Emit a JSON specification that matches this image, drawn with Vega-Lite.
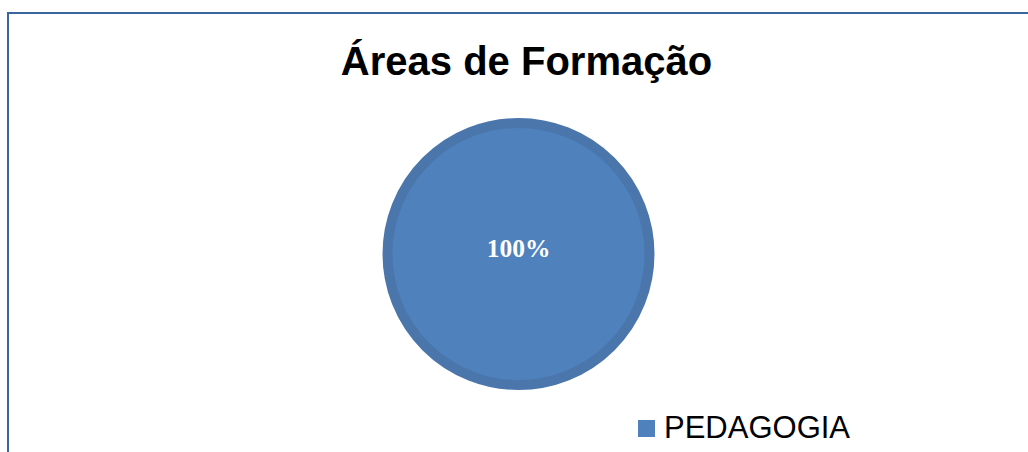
{
  "$schema": "https://vega.github.io/schema/vega-lite/v6.json",
  "width": 1021,
  "height": 482,
  "autosize": {"type": "none"},
  "padding": {"left": 8, "top": 13, "right": -1, "bottom": -43},
  "background": "white",
  "view": {"stroke": "#3A66A0", "strokeWidth": 2, "fill": "white"},
  "title": {
    "text": "Áreas de Formação",
    "font": "Liberation Sans",
    "fontSize": 40,
    "fontWeight": "bold",
    "color": "black",
    "anchor": "middle",
    "frame": "group",
    "offset": -70,
    "dx": 8
  },
  "config": {"view": {"stroke": "#3A66A0", "strokeWidth": 2}, "style": {"cell": {"stroke": "#3A66A0", "strokeWidth": 2}, "view": {"stroke": "#3A66A0", "strokeWidth": 2}}},
  "data": {"values": [{"area": "PEDAGOGIA", "value": 100, "label": "100%"}]},
  "layer": [
    {
      "mark": {"type": "arc", "outerRadius": 131, "stroke": "#4A76AC", "strokeWidth": 10},
      "encoding": {
        "theta": {"field": "value", "type": "quantitative", "stack": true},
        "color": {
          "field": "area",
          "type": "nominal",
          "scale": {"domain": ["PEDAGOGIA"], "range": ["#4F81BD"]},
          "legend": {
            "orient": "none",
            "legendX": 623,
            "legendY": 400,
            "title": null,
            "symbolType": "square",
            "symbolSize": 289,
            "symbolStrokeWidth": 0,
            "symbolOpacity": 1,
            "labelFont": "Liberation Sans",
            "labelFontSize": 31,
            "labelColor": "black",
            "labelOffset": 2,
            "labelLimit": 400,
            "padding": 0,
            "symbolOffset": 0
          }
        }
      }
    },
    {
      "mark": {"type": "text", "font": "Liberation Serif", "fontSize": 25.5, "fontWeight": "bold", "color": "white", "dy": -5},
      "encoding": {"text": {"field": "label"}}
    }
  ]
}
